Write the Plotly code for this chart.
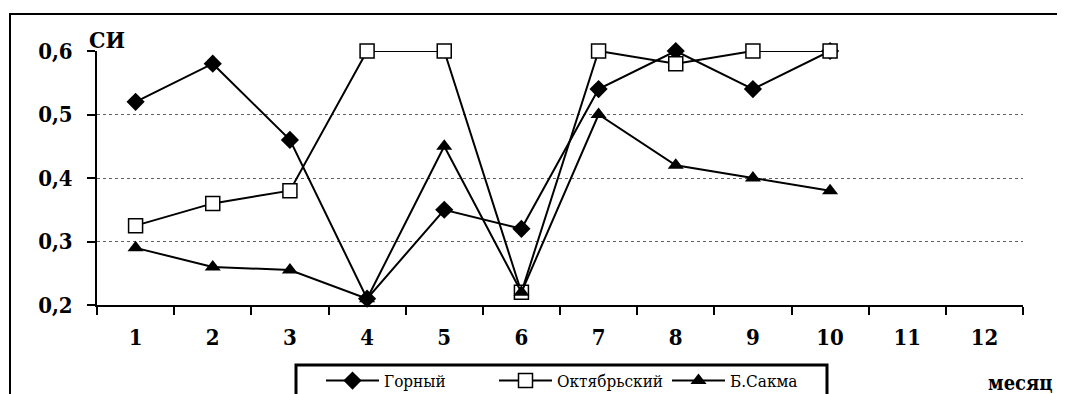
import plotly.graph_objects as go

months = [1, 2, 3, 4, 5, 6, 7, 8, 9, 10]
month_ticks = list(range(1, 13))
month_labels = [str(m) for m in month_ticks]

gorny = [0.52, 0.58, 0.46, 0.21, 0.35, 0.32, 0.54, 0.60, 0.54, 0.60]
oktyabrsky = [0.325, 0.36, 0.38, 0.60, 0.60, 0.22, 0.60, 0.58, 0.60, 0.60]
b_sakma = [0.29, 0.26, 0.255, 0.21, 0.45, 0.22, 0.50, 0.42, 0.40, 0.38]

y_ticks = [0.2, 0.3, 0.4, 0.5, 0.6]
y_labels = ["0,2", "0,3", "0,4", "0,5", "0,6"]

OFF = 8  # default page body margin
W, H = 1065 - OFF, 394 - OFF
L, R, T, B = 97 - OFF, 42, 51 - OFF, 89
pw, ph = W - L - R, H - T - B

SERIF = "DejaVu Serif Condensed, DejaVu Serif, serif"

def px(x):
    return (x - OFF - L) / pw

def py(y):
    return (H - B - (y - OFF)) / ph

fig = go.Figure()
fig.add_trace(go.Scatter(
    x=months, y=gorny, name="Горный", mode="lines+markers",
    line=dict(color="black", width=2),
    marker=dict(symbol="diamond", size=14, color="black"),
    cliponaxis=False))
fig.add_trace(go.Scatter(
    x=months, y=oktyabrsky, name="Октябрьский", mode="lines+markers",
    line=dict(color="black", width=2),
    marker=dict(symbol="square", size=14, color="white",
                line=dict(color="black", width=1.5)),
    cliponaxis=False))
fig.add_trace(go.Scatter(
    x=months, y=b_sakma, name="Б.Сакма", mode="lines+markers",
    line=dict(color="black", width=2),
    marker=dict(symbol="triangle-up", size=14, color="black"),
    cliponaxis=False))

tick_font = dict(family=SERIF, size=22, color="black")

fig.update_layout(
    width=W, height=H,
    margin=dict(l=L, r=R, t=T, b=B, autoexpand=False),
    paper_bgcolor="white", plot_bgcolor="white",
    font=dict(family=SERIF, color="black"),
    xaxis=dict(
        range=[0.5, 12.5], tickmode="array", tickvals=month_ticks,
        ticktext=["<b>%s</b>" % t for t in month_labels],
        ticks="", ticklabelstandoff=12, tickfont=tick_font,
        showgrid=False, zeroline=False, automargin=False,
        showline=True, linecolor="black", linewidth=2,
        minor=dict(tickmode="linear", tick0=0.5, dtick=1, ticks="outside",
                   ticklen=8, tickwidth=1.5, tickcolor="black", showgrid=False),
    ),
    yaxis=dict(
        range=[0.2, 0.6], tickmode="array", tickvals=y_ticks,
        ticktext=["<b>%s</b>" % t for t in y_labels],
        ticks="outside", ticklen=8, tickwidth=2, tickcolor="black",
        ticklabelstandoff=10, tickfont=tick_font, automargin=False,
        showgrid=True, gridcolor="#606060", griddash="dot", gridwidth=1,
        zeroline=False, showline=True, linecolor="black", linewidth=2,
    ),
    showlegend=True,
    legend=dict(
        orientation="h", xref="container", yref="container",
        x=(321 - OFF) / W, y=1 - (363 - OFF) / H, xanchor="left", yanchor="top",
        borderwidth=0, bgcolor="rgba(0,0,0,0)",
        font=dict(family=SERIF, size=17, color="black"),
        itemwidth=53, entrywidth=105,
    ),
    shapes=[
        dict(type="rect", xref="paper", yref="paper",
             x0=px(10), x1=px(1075), y0=py(400), y1=py(14),
             line=dict(color="black", width=2), layer="below"),
        dict(type="rect", xref="paper", yref="paper",
             x0=px(296), x1=px(827), y0=py(410), y1=py(365),
             line=dict(color="black", width=3), fillcolor="white", layer="below"),
    ],
    annotations=[
        dict(text="<b>СИ</b>", xref="paper", yref="paper", x=px(107), y=py(39),
             xanchor="center", yanchor="middle",
             showarrow=False, font=dict(family=SERIF, size=23, color="black")),
        dict(text="<b>месяц</b>", xref="paper", yref="paper", x=px(986), y=py(383),
             xanchor="left", yanchor="middle", showarrow=False,
             font=dict(family=SERIF, size=20, color="black")),
    ],
)

fig.write_html("out.html")
